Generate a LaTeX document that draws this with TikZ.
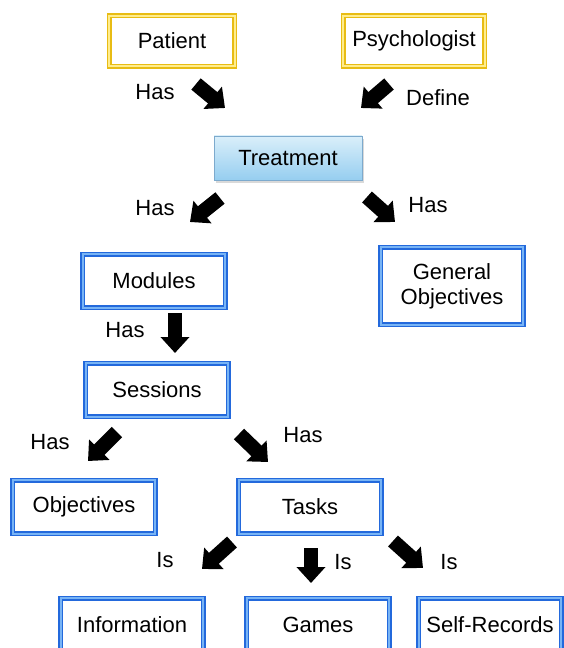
\documentclass[tikz,border=0pt]{standalone}
\usepackage{fontspec}
\setmainfont{Liberation Sans}
\usetikzlibrary{arrows.meta, positioning, shadows}
\definecolor{frameblue}{RGB}{35,105,220}
\definecolor{framelight}{RGB}{120,180,245}
\definecolor{framegold}{RGB}{232,188,20}
\definecolor{frameyellow}{RGB}{255,236,140}
\definecolor{treatborder}{RGB}{125,170,205}
\definecolor{treattop}{RGB}{218,239,250}
\definecolor{treatbottom}{RGB}{150,206,240}

\begin{document}
\begin{tikzpicture}[
    x=0.75pt, y=-0.75pt,
    every node/.style={font=\fontsize{16.5}{19}\selectfont},
    person/.style={rectangle, draw=framegold, double=frameyellow, line width=1pt, double distance=1.3pt,
        fill=white, minimum height=38pt, text centered,
        drop shadow={shadow xshift=1.5pt, shadow yshift=-2pt, opacity=0.3}},
    entity/.style={rectangle, draw=frameblue, double=framelight, line width=1pt, double distance=1.3pt,
        fill=white, minimum width=107pt, minimum height=40pt, text centered, align=center,
        drop shadow={shadow xshift=1.5pt, shadow yshift=-2pt, opacity=0.3}},
    treatment/.style={rectangle, draw=treatborder, line width=0.6pt, top color=treattop, bottom color=treatbottom,
        minimum width=111pt, minimum height=33pt, text centered,
        drop shadow={shadow xshift=1.5pt, shadow yshift=-2pt, opacity=0.3}},
    blockarrow/.style={line width=11pt, black, -{Triangle[width=21pt,length=12pt]}}
]
\useasboundingbox (0,0) rectangle (563,648);

% boxes
\node[person, minimum width=94pt] (patient) at (172,41) {Patient};
\node[person, minimum width=106pt] (psychologist) at (414,41) {Psychologist};
\node[treatment] (treat) at (288,158) {Treatment};
\node[entity] (modules) at (154,281) {Modules};
\node[entity, minimum height=58pt] (general) at (452,286) {General\\Objectives};
\node[entity] (sessions) at (157,390) {Sessions};
\node[entity] (objectives) at (84,507) {Objectives};
\node[entity] (tasks) at (310,507) {Tasks};
\node[entity] (information) at (132,625) {Information};
\node[entity] (games) at (318,625) {Games};
\node[entity] (selfrec) at (490,625) {Self-Records};

% labels
\node (lpatient) at (155,92) {Has};
\node (lpsych) at (438,98) {Define};
\node (lmodules) at (155,208) {Has};
\node (lgeneral) at (428,205) {Has};
\node (lsessions) at (125,330) {Has};
\node (lobjectives) at (50,442) {Has};
\node (ltasks) at (303,435) {Has};
\node (linfo) at (165,560) {Is};
\node (lgames) at (343,562) {Is};
\node (lselfrec) at (449,562) {Is};

% arrow ends
\coordinate (patient-s) at (196,84);   \coordinate (patient-e) at (225,108);
\coordinate (psych-s) at (389,84);     \coordinate (psych-e) at (361,108);
\coordinate (modules-s) at (220,198);  \coordinate (modules-e) at (190,222);
\coordinate (general-s) at (367,197);  \coordinate (general-e) at (395,222);
\coordinate (sessions-s) at (175,313); \coordinate (sessions-e) at (175,353);
\coordinate (objectives-s) at (117,432); \coordinate (objectives-e) at (88,461);
\coordinate (tasks-s) at (239,434);    \coordinate (tasks-e) at (268,462);
\coordinate (info-s) at (232,542);     \coordinate (info-e) at (202,569);
\coordinate (games-s) at (311,548);    \coordinate (games-e) at (311,583);
\coordinate (selfrec-s) at (393,541);  \coordinate (selfrec-e) at (423,568);

\draw[blockarrow] (patient-s) -- (patient-e);
\draw[blockarrow] (psych-s) -- (psych-e);
\draw[blockarrow] (modules-s) -- (modules-e);
\draw[blockarrow] (general-s) -- (general-e);
\draw[blockarrow] (sessions-s) -- (sessions-e);
\draw[blockarrow] (objectives-s) -- (objectives-e);
\draw[blockarrow] (tasks-s) -- (tasks-e);
\draw[blockarrow] (info-s) -- (info-e);
\draw[blockarrow] (games-s) -- (games-e);
\draw[blockarrow] (selfrec-s) -- (selfrec-e);

\end{tikzpicture}
\end{document}
